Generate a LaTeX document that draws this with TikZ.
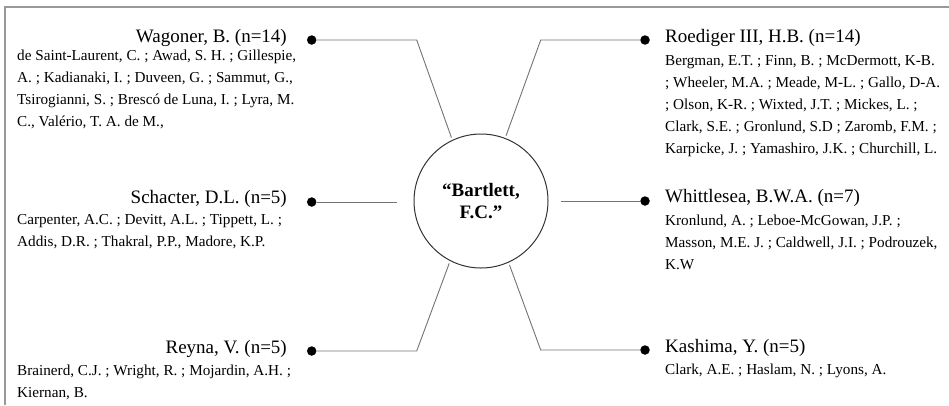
\documentclass[tikz,border=0pt]{standalone}
\usepackage{fontspec}
\setmainfont{Liberation Serif}
\usetikzlibrary{calc}

\begin{document}
\begin{tikzpicture}[x=1pt, y=-1pt,
  every node/.style={inner sep=0pt},
  head/.style={font=\fontsize{19}{22}\selectfont},
  names/.style={font=\fontsize{15.2}{22}\selectfont, align=left},
  dot/.style={circle, fill=black, minimum size=9.5pt},
  link/.style={draw=black!55, line width=0.9pt},
  hubstyle/.style={circle, draw=black!80, line width=1pt, minimum size=134pt,
    outer sep=3pt, align=center, font=\fontsize{19}{22}\selectfont\bfseries}]

\useasboundingbox (0,0) rectangle (949,405);

% ---------- FRAME ----------
\draw[black!40, line width=1.5pt] (5,405) -- (5,7) -- (949,7);

% ---------- CENTRE ----------
\node[hubstyle] (hub) at (481,201) {“Bartlett,\\F.C.”};

% ---------- LEFT SIDE ----------
\node[dot] (wagdot) at (311.7,40) {};
\node[dot] (schdot) at (311.7,202) {};
\node[dot] (reydot) at (311.7,351) {};
\coordinate (wagbend) at (416.7,40);
\coordinate (reybend) at (416.7,351);

\draw[link] (wagdot) -- (wagbend) -- (hub.115);
\draw[link, shorten >=14pt] (schdot) -- (schdot -| hub.west);
\draw[link] (reydot) -- (reybend) -- (hub.243);

% name lists are anchored on the baseline of their last line
\node[head, anchor=base east] (waghead) at (287,42) {Wagoner, B. (n=14)};
\node[names, anchor=base west] (wagnames) at (17,126)
  {de Saint-Laurent, C. ; Awad, S. H. ; Gillespie,\\
   A. ; Kadianaki, I. ; Duveen, G. ; Sammut, G.,\\
   Tsirogianni, S. ; Brescó de Luna, I. ; Lyra, M.\\
   C., Valério, T. A. de M.,};

\node[head, anchor=base east] (schhead) at (287,203) {Schacter, D.L. (n=5)};
\node[names, anchor=base west] (schnames) at (17,246)
  {Carpenter, A.C. ; Devitt, A.L. ; Tippett, L. ;\\
   Addis, D.R. ; Thakral, P.P., Madore, K.P.};

\node[head, anchor=base east] (reyhead) at (287,353) {Reyna, V. (n=5)};
\node[names, anchor=base west] (reynames) at (17,397)
  {Brainerd, C.J. ; Wright, R. ; Mojardin, A.H. ;\\
   Kiernan, B.};

% ---------- RIGHT SIDE ----------
\node[dot] (roedot) at (645,40) {};
\node[dot] (whidot) at (645,201) {};
\node[dot] (kasdot) at (645,350) {};
\coordinate (roebend) at (540.7,40);
\coordinate (kasbend) at (540.7,350);

\draw[link] (roedot) -- (roebend) -- (hub.69);
\draw[link, shorten >=10pt] (whidot) -- (whidot -| hub.east);
\draw[link] (kasdot) -- (kasbend) -- (hub.294);

\node[head, anchor=base west] (roehead) at (665,42) {Roediger III, H.B. (n=14)};
\node[names, anchor=base west] (roenames) at (665,153)
  {Bergman, E.T. ; Finn, B. ; McDermott, K-B.\\
   ; Wheeler, M.A. ; Meade, M-L. ; Gallo, D-A.\\
   ; Olson, K-R. ; Wixted, J.T. ; Mickes, L. ;\\
   Clark, S.E. ; Gronlund, S.D ; Zaromb, F.M. ;\\
   Karpicke, J. ; Yamashiro, J.K. ; Churchill, L.};

\node[head, anchor=base west] (whihead) at (665,202) {Whittlesea, B.W.A. (n=7)};
\node[names, anchor=base west] (whinames) at (665,269)
  {Kronlund, A. ; Leboe-McGowan, J.P. ;\\
   Masson, M.E. J. ; Caldwell, J.I. ; Podrouzek,\\
   K.W};

\node[head, anchor=base west] (kashead) at (665,352) {Kashima, Y. (n=5)};
\node[names, anchor=base west] (kasnames) at (665,374)
  {Clark, A.E. ; Haslam, N. ; Lyons, A.};

\end{tikzpicture}
\end{document}
